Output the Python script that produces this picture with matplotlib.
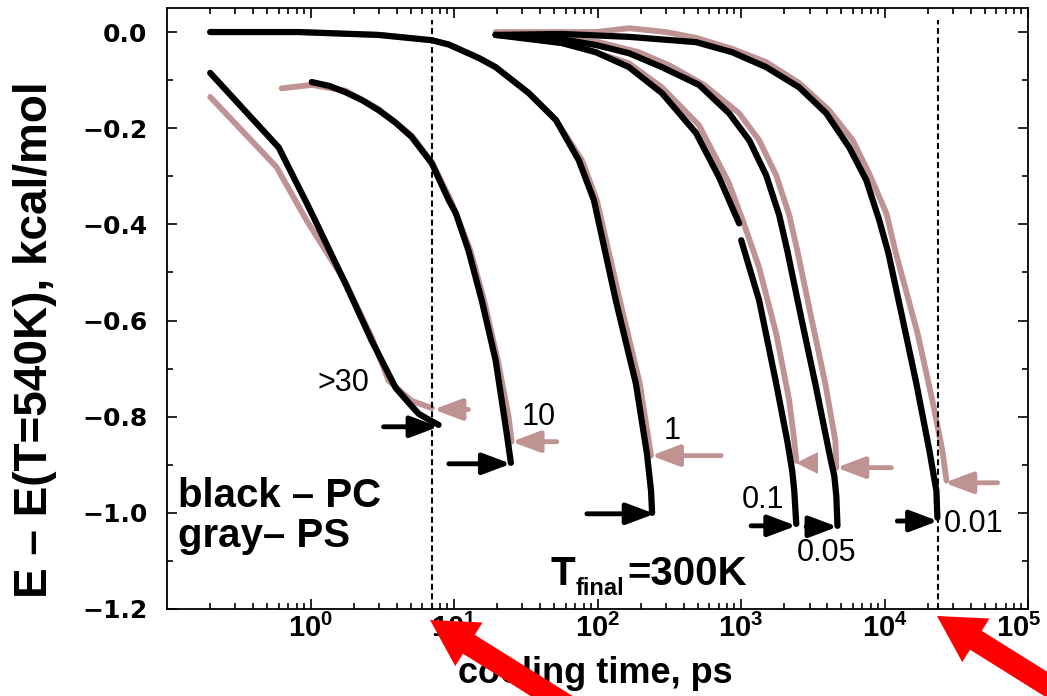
import numpy as np
import matplotlib
matplotlib.use('Agg')
import matplotlib.pyplot as plt
from matplotlib.ticker import MultipleLocator, LogLocator, NullFormatter

plt.rcParams['font.family'] = ['Liberation Sans', 'DejaVu Sans']
plt.rcParams['mathtext.fontset'] = 'custom'
plt.rcParams['mathtext.bf'] = 'Liberation Sans:bold'
plt.rcParams['mathtext.rm'] = 'Liberation Sans:bold'

nan = np.nan
PC_COLOR = 'black'
PS_COLOR = '#c09393'

# ---------------- data (cooling time in ps, energy in kcal/mol) ----------------
rates = ['>30', '10', '1', '0.1', '0.05', '0.01']

pc_x_gt30 = [0.2, 0.6, 0.92, 1.02, 1.75, 2.67, 3.92, 4.83, 5.67, 6.66, 7.8]
pc_y_gt30 = [-0.085, -0.24, -0.35, -0.377, -0.523, -0.642, -0.74, -0.771, -0.794, -0.806, -0.817]
ps_x_gt30 = [0.2, 0.58, 0.94, 1.75, 2.67, 3.5, 5.06, 7.0]
ps_y_gt30 = [-0.135, -0.281, -0.392, -0.52, -0.635, -0.725, -0.767, -0.782]

pc_x_10 = [1.02, 1.35, 1.75, 2.3, 2.98, 3.9, 5.06, 7.0, 9.2, 10.3, 12.6, 15.6, 19.5, 23.3, 24.9]
pc_y_10 = [-0.104, -0.112, -0.125, -0.142, -0.1625, -0.188, -0.218, -0.273, -0.35, -0.377, -0.454, -0.558, -0.683, -0.835, -0.896]
ps_x_10 = [0.63, 1.02, 1.75, 2.98, 5.06, 7.0, 9.5, 13.0, 16.2, 20.2, 24.0, 25.2]
ps_y_10 = [-0.117, -0.11, -0.122, -0.16, -0.215, -0.27, -0.35, -0.454, -0.558, -0.683, -0.80, -0.852]

pc_x_1 = [0.2, 0.825, 2.98, 7.0, 9.2, 14.9, 19.5, 33.2, 51.3, 74.1, 94.4, 134, 185, 221, 236, 240]
pc_y_1 = [0.0, 0.0, -0.006, -0.017, -0.026, -0.054, -0.073, -0.127, -0.183, -0.267, -0.35, -0.558, -0.731, -0.877, -0.954, -1.0]
ps_x_1 = [0.2, 0.825, 2.98, 7.0, 9.2, 14.9, 19.5, 33.2, 51.3, 78, 99, 143, 197, 236]
ps_y_1 = [0.0, 0.0, -0.006, -0.017, -0.026, -0.054, -0.073, -0.127, -0.183, -0.267, -0.35, -0.558, -0.731, -0.881]

pc_x_01 = [19.5, 56.5, 97.5, 165.6, 281, 486, 703, 970, 975, 1003, 1337, 1758, 2099, 2274, 2349, 2426]
pc_y_01 = [-0.006, -0.023, -0.042, -0.073, -0.127, -0.21, -0.302, -0.398, nan, -0.433, -0.558, -0.731, -0.85, -0.913, -0.954, -1.023]
ps_x_01 = [19.5, 56.5, 165.6, 281, 510, 826, 1051, 1337, 1758, 2168, 2349, 2426]
ps_y_01 = [-0.002, -0.019, -0.065, -0.115, -0.194, -0.315, -0.4, -0.49, -0.627, -0.767, -0.85, -0.892]

pc_x_005 = [19.5, 56.5, 97.5, 165.6, 281, 510, 826, 1140, 1497, 1845, 2099, 2625, 3290, 4185, 4465, 4613, 4700]
pc_y_005 = [-0.006, -0.015, -0.027, -0.044, -0.073, -0.110, -0.169, -0.225, -0.298, -0.381, -0.454, -0.594, -0.731, -0.885, -0.923, -0.965, -1.027]
ps_x_005 = [19.5, 102, 194, 315, 553, 970, 1337, 1758, 2168, 2466, 3087, 3864, 4540, 4613]
ps_y_005 = [-0.002, -0.021, -0.042, -0.069, -0.11, -0.169, -0.225, -0.298, -0.381, -0.454, -0.594, -0.731, -0.85, -0.906]

pc_x_001 = [19.5, 56.5, 165.6, 486, 868, 1497, 2541, 3925, 5680, 7460, 9200, 10640, 13300, 16660, 20550, 22970, 23350]
pc_y_001 = [-0.006, -0.004, -0.01, -0.021, -0.042, -0.073, -0.115, -0.169, -0.24, -0.308, -0.392, -0.46, -0.594, -0.731, -0.871, -0.954, -1.01]
ps_x_001 = [19.5, 97.5, 166, 300, 486, 868, 1497, 2541, 4100, 6000, 7800, 10300, 12000, 17000, 21570, 25300, 27000]
ps_y_001 = [0.0, 0.0, 0.008, 0.0, -0.012, -0.035, -0.0625, -0.106, -0.1625, -0.225, -0.294, -0.377, -0.46, -0.627, -0.767, -0.871, -0.933]

# arrows marking final energies (PC: pointing right, PS: pointing left)
pc_arrow_tail_x = [3.23, 9.2, 84.3, 1176, 2845, 12280]
pc_arrow_tip_x = [7.8, 24.9, 250, 2426, 4700, 23600]
pc_arrow_y = [-0.821, -0.898, -1.002, -1.027, -1.029, -1.017]
ps_arrow_tail_x = [12.6, 52, 727, 3396, 11160, 61300]
ps_arrow_tip_x = [7.2, 25.2, 236, 2426, 4613, 26100]
ps_arrow_y = [-0.785, -0.852, -0.881, -0.896, -0.906, -0.9375]
ps_arrow_has_shaft = [True, True, True, False, True, True]

# rate labels
label_x = [1.70, 39, 330, 1427, 3925, 41700]
label_y = [-0.729, -0.80, -0.829, -0.973, -1.083, -1.023]

# dashed reference lines
dash_x = [7.0, 23700]

# ticks
x_tick_exps = [0, 1, 2, 3, 4, 5]
y_ticks = [-1.2, -1.0, -0.8, -0.6, -0.4, -0.2, 0.0]
y_tick_labels = ['\u22121.2', '\u22121.0', '\u22120.8', '\u22120.6', '\u22120.4', '\u22120.2', '0.0']

pc_curves = [(pc_x_gt30, pc_y_gt30), (pc_x_10, pc_y_10), (pc_x_1, pc_y_1),
             (pc_x_01, pc_y_01), (pc_x_005, pc_y_005), (pc_x_001, pc_y_001)]
ps_curves = [(ps_x_gt30, ps_y_gt30), (ps_x_10, ps_y_10), (ps_x_1, ps_y_1),
             (ps_x_01, ps_y_01), (ps_x_005, ps_y_005), (ps_x_001, ps_y_001)]

# ---------------- figure ----------------
fig = plt.figure(figsize=(10.47, 6.96), dpi=100)
ax = fig.add_axes([0.1595, 0.125, 0.8224, 0.8635])
ax.set_xscale('log')
ax.set_xlim(0.1, 1e5)
ax.set_ylim(-1.2, 0.05)

for x, y in ps_curves:
    ax.plot(x, y, color=PS_COLOR, lw=4.2, solid_capstyle='round', solid_joinstyle='round', zorder=2)
for x, y in pc_curves:
    ax.plot(x, y, color=PC_COLOR, lw=4.5, solid_capstyle='round', solid_joinstyle='round', zorder=3)

for xd in dash_x:
    ax.plot([xd, xd], [-1.2, 0.025], color='black', lw=1.5, dashes=(2.9, 1.7), zorder=4)

arrow_style = '-|>,head_length=0.85,head_width=0.32'
for xt, xh, y in zip(pc_arrow_tail_x, pc_arrow_tip_x, pc_arrow_y):
    ax.annotate('', xy=(xh, y), xytext=(xt, y),
                arrowprops=dict(arrowstyle=arrow_style, mutation_scale=20, lw=3.5,
                                color=PC_COLOR, shrinkA=0, shrinkB=0), zorder=5)
for xt, xh, y, shaft in zip(ps_arrow_tail_x, ps_arrow_tip_x, ps_arrow_y, ps_arrow_has_shaft):
    if shaft:
        ax.annotate('', xy=(xh, y), xytext=(xt, y),
                    arrowprops=dict(arrowstyle=arrow_style, mutation_scale=20, lw=3.5,
                                    color=PS_COLOR, shrinkA=0, shrinkB=0), zorder=5)
    else:
        ax.plot([np.sqrt(xt * xh)], [y], marker='<', ms=16, color=PS_COLOR,
                markeredgewidth=0, zorder=5)

for txt, x, y in zip(rates, label_x, label_y):
    ax.text(x, y, txt, fontsize=22, ha='center', va='center', color='black', zorder=6)

ax.text(0.0128, 0.170, 'black \u2013 PC', transform=ax.transAxes, fontsize=29,
        fontweight='bold', ha='left', va='baseline')
ax.text(0.0128, 0.103, 'gray\u2013 PS', transform=ax.transAxes, fontsize=29,
        fontweight='bold', ha='left', va='baseline')

ax.text(0.445, 0.040, 'T', transform=ax.transAxes, fontsize=29, fontweight='bold',
        ha='left', va='baseline')
ax.text(0.474, 0.0233, 'final', transform=ax.transAxes, fontsize=17, fontweight='bold',
        ha='left', va='baseline')
ax.text(0.535, 0.040, '=300K', transform=ax.transAxes, fontsize=29, fontweight='bold',
        ha='left', va='baseline')

# axes styling
x_tick_texts = [r'$\mathbf{10^{%d}}$' % k for k in x_tick_exps]
ax.set_xticks([10.0 ** k for k in x_tick_exps])
ax.set_xticklabels(x_tick_texts[:-1] + [''])
# last label nudged left so it stays inside the figure, as in the reference
ax.annotate(x_tick_texts[-1], xy=(10.0 ** x_tick_exps[-1], 0), xycoords=('data', 'axes fraction'),
            xytext=(-7, -3.6), textcoords='offset points', ha='center', va='top', fontsize=21,
            annotation_clip=False)
ax.xaxis.set_minor_locator(LogLocator(base=10, subs=np.arange(2, 10), numticks=30))
ax.xaxis.set_minor_formatter(NullFormatter())
ax.set_yticks(y_ticks)
ax.set_yticklabels(y_tick_labels)
ax.yaxis.set_minor_locator(MultipleLocator(0.1))
ax.tick_params(which='both', direction='in', top=True, right=True, width=1.2)
ax.tick_params(which='major', length=7)
ax.tick_params(which='minor', length=4)
ax.tick_params(axis='x', which='major', labelsize=21, pad=3.6)
ax.tick_params(axis='y', which='major', pad=14)
for lab in ax.get_yticklabels():
    lab.set_fontfamily('DejaVu Sans')
    lab.set_fontweight('bold')
    lab.set_fontsize(18)
for sp in ax.spines.values():
    sp.set_linewidth(1.3)

ax.set_xlabel('cooling time, ps', fontsize=26, fontweight='bold', va='baseline')
ax.xaxis.set_label_coords(0.497, -0.123)
ax.set_ylabel('E \u2013 E(T=540K), kcal/mol', fontsize=33, fontweight='bold', va='center')
ax.yaxis.set_label_coords(-0.153, 0.448)

# red pointer arrows (figure pixel coordinates)
red_tips = [(430, 76), (937, 80)]
red_tails = [(574, -14), (1081, -10)]
for tip, tail in zip(red_tips, red_tails):
    ax.annotate('', xy=tip, xycoords='figure pixels', xytext=tail, textcoords='figure pixels',
                arrowprops=dict(arrowstyle='simple,head_length=3.3,head_width=3.7,tail_width=1.6',
                                mutation_scale=10, color='red', lw=0, shrinkA=0, shrinkB=0),
                annotation_clip=False, zorder=10)

fig.savefig('out.png', dpi=100)
